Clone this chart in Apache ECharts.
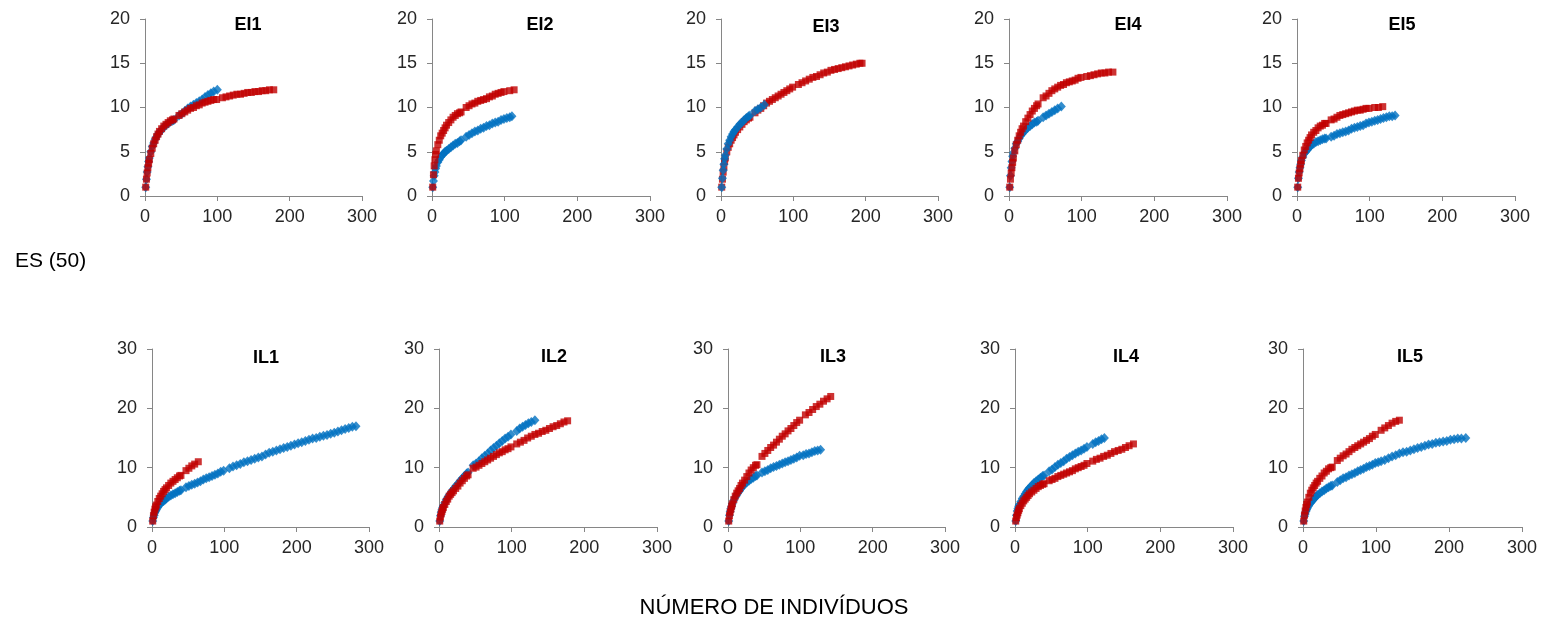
<!DOCTYPE html>
<html>
<head>
<meta charset="utf-8">
<script src="https://cdn.jsdelivr.net/npm/echarts@6/dist/echarts.min.js"></script>
<style>
html,body{margin:0;padding:0;background:#fff;}
#c{width:1541px;height:622px;}
</style>
</head>
<body>
<div id="c"></div>
<script>
// ---- DATA ----
const panelNames = ['EI1','EI2','EI3','EI4','EI5','IL1','IL2','IL3','IL4','IL5'];
const xTicks = [0, 100, 200, 300];
const yTicksTop = [0, 5, 10, 15, 20];
const yTicksBottom = [0, 10, 20, 30];
const axisLabelX = 'NÚMERO DE INDIVÍDUOS';
const axisLabelY = 'ES (50)';

const EI1_blue = [[1,1],[2,1.9],[3,2.7],[4,3.3],[5,3.9],[6,4.3],[8,5.0],[10,5.6],[12,6.0],[14,6.4],[16,6.7],[18,7.0],[20,7.2],[23,7.5],[26,7.8],[29,8.0],[32,8.2],[35,8.4],[38,8.5],[40,8.6],[47,9.1],[51,9.3],[55,9.6],[59,9.9],[63,10.1],[67,10.3],[71,10.5],[75,10.7],[79,10.9],[83,11.2],[87,11.4],[91,11.6],[95,11.8],[100,12.0]];
const EI1_red = [[1,1],[2,1.9],[3,2.6],[4,3.2],[5,3.7],[6,4.1],[8,4.8],[10,5.4],[12,5.9],[14,6.3],[16,6.7],[18,7.0],[20,7.3],[23,7.6],[26,7.9],[29,8.1],[32,8.3],[35,8.5],[38,8.6],[40,8.7],[47,9.1],[51,9.3],[55,9.5],[59,9.7],[63,9.9],[67,10.0],[71,10.2],[75,10.3],[79,10.5],[83,10.6],[87,10.7],[91,10.8],[95,10.9],[99,10.9],[107,11.1],[112,11.2],[117,11.3],[122,11.4],[127,11.5],[132,11.5],[137,11.6],[142,11.7],[147,11.7],[152,11.8],[157,11.8],[162,11.9],[167,11.9],[172,12.0],[178,12.0]];

const EI2_blue = [[1,1],[2,1.7],[3,2.3],[4,2.7],[5,3.1],[6,3.4],[8,3.8],[10,4.1],[12,4.4],[14,4.6],[16,4.8],[18,5.0],[20,5.1],[23,5.3],[26,5.5],[29,5.7],[32,5.9],[35,6.0],[38,6.2],[40,6.3],[47,6.7],[51,6.9],[55,7.1],[59,7.3],[63,7.4],[67,7.6],[71,7.7],[75,7.9],[79,8.0],[83,8.2],[87,8.3],[91,8.4],[95,8.6],[99,8.7],[103,8.8],[107,8.9],[110,9.0]];
const EI2_red = [[1,1],[2,2.4],[3,3.4],[4,4.1],[5,4.7],[6,5.1],[8,5.8],[10,6.3],[12,6.8],[14,7.1],[16,7.4],[18,7.7],[20,8.0],[23,8.3],[26,8.6],[29,8.9],[32,9.1],[35,9.3],[38,9.4],[40,9.5],[47,10.0],[51,10.2],[55,10.4],[59,10.5],[63,10.7],[67,10.8],[71,10.9],[75,11.0],[79,11.2],[83,11.3],[87,11.5],[91,11.6],[95,11.7],[99,11.8],[107,11.9],[113,12.0]];

const EI3_blue = [[1,1],[2,2.0],[3,2.9],[4,3.6],[5,4.2],[6,4.6],[8,5.3],[10,5.9],[12,6.3],[14,6.7],[16,7.0],[18,7.3],[20,7.5],[23,7.8],[26,8.1],[29,8.3],[32,8.6],[35,8.8],[38,9.0],[40,9.1],[47,9.6],[51,9.8],[55,10.0],[60,10.3]];
const EI3_red = [[1,1],[2,1.9],[3,2.7],[4,3.3],[5,3.9],[6,4.3],[8,5.0],[10,5.5],[12,5.9],[14,6.3],[16,6.6],[18,6.9],[20,7.2],[23,7.5],[26,7.8],[29,8.1],[32,8.4],[35,8.6],[38,8.8],[40,8.9],[47,9.4],[51,9.7],[55,9.9],[59,10.2],[63,10.5],[67,10.7],[71,10.9],[75,11.1],[79,11.3],[83,11.5],[87,11.7],[91,11.9],[95,12.1],[99,12.3],[107,12.6],[112,12.8],[117,13.0],[122,13.2],[127,13.4],[132,13.5],[137,13.7],[142,13.9],[147,14.0],[152,14.2],[157,14.3],[162,14.4],[167,14.5],[172,14.6],[177,14.7],[182,14.8],[187,14.9],[192,15.0],[195,15.0]];

const EI4_blue = [[1,1],[2,2.3],[3,3.2],[4,3.9],[5,4.5],[6,4.9],[8,5.4],[10,5.9],[12,6.2],[14,6.5],[16,6.8],[18,7.0],[20,7.2],[23,7.5],[26,7.7],[29,7.9],[32,8.1],[35,8.3],[38,8.4],[40,8.5],[47,8.9],[51,9.1],[55,9.3],[59,9.5],[63,9.7],[67,9.9],[72,10.1]];
const EI4_red = [[1,1],[2,1.9],[3,2.6],[4,3.2],[5,3.8],[6,4.3],[8,5.1],[10,5.8],[12,6.3],[14,6.8],[16,7.2],[18,7.6],[20,7.9],[23,8.4],[26,8.8],[29,9.2],[32,9.6],[35,9.9],[38,10.2],[40,10.4],[47,11.1],[51,11.3],[55,11.6],[59,11.9],[63,12.1],[67,12.3],[71,12.5],[75,12.6],[79,12.8],[83,12.9],[87,13.0],[91,13.1],[95,13.3],[99,13.4],[107,13.5],[112,13.6],[117,13.7],[122,13.8],[127,13.9],[132,13.9],[137,14.0],[143,14.0]];

const EI5_blue = [[1,1],[2,2.0],[3,2.7],[4,3.2],[5,3.6],[6,4.0],[8,4.4],[10,4.8],[12,5.0],[14,5.2],[16,5.4],[18,5.6],[20,5.8],[23,5.9],[26,6.1],[29,6.2],[32,6.3],[35,6.4],[38,6.5],[40,6.5],[47,6.7],[51,6.8],[55,7.0],[59,7.1],[63,7.2],[67,7.3],[71,7.4],[75,7.6],[79,7.7],[83,7.8],[87,7.9],[91,8.0],[95,8.2],[99,8.3],[103,8.4],[107,8.5],[111,8.6],[115,8.7],[119,8.8],[123,8.9],[127,9.0],[131,9.0],[135,9.1]];
const EI5_red = [[1,1],[2,2.0],[3,2.6],[4,3.1],[5,3.6],[6,4.0],[8,4.6],[10,5.2],[12,5.6],[14,6.0],[16,6.3],[18,6.6],[20,6.9],[23,7.2],[26,7.4],[29,7.7],[32,7.9],[35,8.0],[38,8.2],[40,8.2],[47,8.6],[51,8.7],[55,8.9],[59,9.1],[63,9.2],[67,9.3],[71,9.4],[75,9.5],[79,9.6],[83,9.7],[87,9.7],[91,9.8],[95,9.9],[99,9.9],[107,10.0],[112,10.0],[118,10.1]];

const IL1_blue = [[1,1],[2,1.6],[3,2.0],[4,2.4],[5,2.7],[6,2.9],[8,3.3],[10,3.7],[12,4.0],[14,4.2],[16,4.4],[18,4.6],[20,4.8],[23,5.1],[26,5.3],[29,5.5],[32,5.7],[35,5.9],[38,6.1],[40,6.2],[47,6.7],[51,6.9],[55,7.1],[59,7.3],[63,7.5],[67,7.7],[71,8.0],[75,8.2],[79,8.4],[83,8.6],[87,8.8],[91,9.0],[95,9.3],[99,9.5],[107,9.9],[112,10.2],[117,10.4],[122,10.6],[127,10.9],[132,11.1],[137,11.3],[142,11.5],[147,11.7],[152,11.9],[157,12.2],[162,12.5],[167,12.7],[172,12.9],[177,13.1],[182,13.3],[187,13.5],[192,13.7],[197,13.9],[202,14.1],[207,14.3],[212,14.5],[217,14.7],[222,14.9],[227,15.0],[232,15.2],[237,15.4],[242,15.5],[247,15.7],[252,15.9],[257,16.1],[262,16.3],[267,16.5],[272,16.7],[277,16.9],[282,17.0]];
const IL1_red = [[1,1],[2,1.9],[3,2.5],[4,3.0],[5,3.4],[6,3.7],[8,4.3],[10,4.8],[12,5.2],[14,5.6],[16,6.0],[18,6.3],[20,6.6],[23,7.0],[26,7.4],[29,7.7],[32,8.0],[35,8.3],[38,8.6],[40,8.7],[47,9.5],[51,9.9],[55,10.3],[59,10.6],[64,11.0]];

const IL2_blue = [[1,1],[2,1.9],[3,2.5],[4,2.9],[5,3.3],[6,3.6],[8,4.1],[10,4.6],[12,5.0],[14,5.4],[16,5.7],[18,6.1],[20,6.4],[23,6.9],[26,7.3],[29,7.8],[32,8.2],[35,8.6],[38,9.0],[40,9.2],[47,10.4],[51,10.7],[55,11.1],[59,11.6],[63,12.0],[67,12.4],[71,12.9],[75,13.3],[79,13.7],[83,14.1],[87,14.5],[91,14.9],[95,15.2],[99,15.6],[107,16.2],[111,16.6],[115,16.9],[119,17.2],[123,17.5],[127,17.7],[132,18.0]];
const IL2_red = [[1,1],[2,1.7],[3,2.2],[4,2.6],[5,3.0],[6,3.3],[8,3.8],[10,4.3],[12,4.7],[14,5.2],[16,5.5],[18,5.8],[20,6.1],[23,6.5],[26,6.9],[29,7.4],[32,7.8],[35,8.2],[38,8.6],[40,8.8],[47,9.9],[51,10.1],[55,10.4],[59,10.7],[63,11.0],[67,11.3],[71,11.6],[75,11.9],[79,12.2],[83,12.5],[87,12.7],[91,13.0],[95,13.2],[99,13.5],[107,14.0],[112,14.3],[117,14.6],[122,15.0],[127,15.3],[132,15.6],[137,15.8],[142,16.1],[147,16.3],[152,16.6],[157,16.9],[162,17.1],[167,17.4],[172,17.7],[177,17.9]];

const IL3_blue = [[1,1],[2,2.0],[3,2.6],[4,3.1],[5,3.5],[6,3.9],[8,4.5],[10,5.0],[12,5.4],[14,5.8],[16,6.1],[18,6.5],[20,6.8],[23,7.2],[26,7.5],[29,7.8],[32,8.1],[35,8.3],[38,8.6],[40,8.7],[47,9.2],[51,9.4],[55,9.6],[59,9.9],[63,10.1],[67,10.3],[71,10.5],[75,10.7],[79,10.9],[83,11.1],[87,11.3],[91,11.5],[95,11.7],[99,12.0],[104,12.1],[108,12.3],[112,12.4],[116,12.6],[120,12.8],[124,12.9],[128,13.0]];
const IL3_red = [[1,1],[2,1.9],[3,2.5],[4,3.0],[5,3.5],[6,3.9],[8,4.6],[10,5.2],[12,5.7],[14,6.1],[16,6.5],[18,7.0],[20,7.4],[23,7.9],[26,8.5],[29,9.1],[32,9.6],[35,10.0],[38,10.4],[40,10.5],[47,11.9],[51,12.4],[55,12.9],[59,13.4],[63,13.8],[67,14.3],[71,14.8],[75,15.3],[79,15.7],[83,16.2],[87,16.6],[91,17.1],[95,17.6],[99,18.0],[107,18.9],[112,19.3],[117,19.8],[122,20.3],[127,20.7],[132,21.2],[137,21.6],[142,22.0]];

const IL4_blue = [[1,1],[2,2.0],[3,2.7],[4,3.1],[5,3.5],[6,3.8],[8,4.3],[10,4.8],[12,5.2],[14,5.6],[16,6.0],[18,6.3],[20,6.6],[23,7.0],[26,7.4],[29,7.7],[32,8.0],[35,8.3],[38,8.6],[40,8.7],[47,9.4],[51,9.7],[55,10.1],[59,10.5],[63,10.8],[67,11.1],[71,11.5],[75,11.8],[79,12.1],[83,12.4],[87,12.7],[91,12.9],[95,13.2],[99,13.5],[107,14.0],[111,14.3],[115,14.5],[119,14.8],[123,15.0]];
const IL4_red = [[1,1],[2,1.6],[3,2.0],[4,2.4],[5,2.8],[6,3.1],[8,3.6],[10,4.0],[12,4.4],[14,4.7],[16,5.0],[18,5.3],[20,5.6],[23,5.9],[26,6.2],[29,6.5],[32,6.8],[35,7.0],[38,7.2],[40,7.3],[47,7.8],[51,8.0],[55,8.2],[59,8.5],[63,8.7],[67,8.9],[71,9.1],[75,9.3],[79,9.5],[83,9.8],[87,10.0],[91,10.2],[95,10.4],[99,10.7],[107,11.1],[112,11.4],[117,11.6],[122,11.9],[127,12.1],[132,12.4],[137,12.7],[142,12.9],[147,13.1],[152,13.4],[157,13.7],[163,14.0]];

const IL5_blue = [[1,1],[2,1.8],[3,2.2],[4,2.6],[5,2.9],[6,3.2],[8,3.6],[10,4.0],[12,4.3],[14,4.6],[16,4.9],[18,5.2],[20,5.4],[23,5.7],[26,6.0],[29,6.2],[32,6.5],[35,6.7],[38,6.9],[40,7.0],[47,7.6],[51,7.9],[55,8.2],[59,8.4],[63,8.7],[67,8.9],[71,9.1],[75,9.4],[79,9.6],[83,9.8],[87,10.1],[91,10.3],[95,10.5],[99,10.8],[103,10.9],[107,11.1],[112,11.3],[117,11.6],[122,11.9],[127,12.1],[132,12.4],[137,12.6],[142,12.7],[147,12.9],[152,13.1],[157,13.3],[162,13.5],[167,13.7],[172,13.9],[177,14.0],[182,14.2],[187,14.3],[192,14.4],[197,14.5],[202,14.7],[207,14.8],[212,14.9],[217,14.9],[223,15.0]];
const IL5_red = [[1,1],[2,2.0],[3,2.7],[4,3.3],[5,3.8],[6,4.2],[8,5.0],[10,5.7],[12,6.2],[14,6.6],[16,7.0],[18,7.4],[20,7.7],[23,8.2],[26,8.6],[29,9.1],[32,9.4],[35,9.8],[38,10.0],[40,10.1],[47,11.2],[51,11.6],[55,12.0],[59,12.3],[63,12.7],[67,13.1],[71,13.4],[75,13.7],[79,14.0],[83,14.3],[87,14.6],[91,14.9],[95,15.3],[99,15.6],[107,16.3],[112,16.7],[117,17.1],[122,17.5],[127,17.8],[132,18.0]];

const blueSeries = [EI1_blue, EI2_blue, EI3_blue, EI4_blue, EI5_blue, IL1_blue, IL2_blue, IL3_blue, IL4_blue, IL5_blue];
const redSeries = [EI1_red, EI2_red, EI3_red, EI4_red, EI5_red, IL1_red, IL2_red, IL3_red, IL4_red, IL5_red];

// ---- LAYOUT ----
const layout = [
  {left:145, top:19, width:217, height:177, tx:248, ty:25},
  {left:432, top:19, width:218, height:177, tx:540, ty:25},
  {left:721, top:19, width:217, height:177, tx:826, ty:27},
  {left:1009, top:19, width:218, height:177, tx:1128, ty:25},
  {left:1297, top:19, width:218, height:177, tx:1402, ty:25},
  {left:152, top:349, width:217, height:178, tx:266, ty:358},
  {left:439, top:349, width:218, height:178, tx:554, ty:357},
  {left:728, top:349, width:217, height:178, tx:833, ty:357},
  {left:1015, top:349, width:218, height:178, tx:1126, ty:357},
  {left:1303, top:349, width:219, height:178, tx:1410, ty:357}
];
const blueOnTop = [false,false,true,false,false,false,false,false,false,false];

const FONT = '"Liberation Sans", Arial, sans-serif';
const axisColor = '#868686';
const labelColor = '#262626';
const BLUE = '#0070C0';
const RED = '#C00000';

const grids = [], xAxes = [], yAxes = [], series = [], graphics = [];
layout.forEach((L, i) => {
  const top = i < 5;
  const yt = top ? yTicksTop : yTicksBottom;
  grids.push({left:L.left, top:L.top, width:L.width, height:L.height, containLabel:false});
  xAxes.push({
    type:'value', gridIndex:i, min:xTicks[0], max:xTicks[xTicks.length-1], interval:xTicks[1]-xTicks[0],
    axisLine:{show:true, onZero:false, lineStyle:{color:axisColor, width:1}},
    axisTick:{show:true, inside:false, length:5, lineStyle:{color:axisColor}},
    axisLabel:{margin:12, color:labelColor, fontSize:18, fontFamily:FONT},
    splitLine:{show:false}
  });
  yAxes.push({
    type:'value', gridIndex:i, min:yt[0], max:yt[yt.length-1], interval:yt[1]-yt[0],
    axisLine:{show:true, onZero:false, lineStyle:{color:axisColor, width:1}},
    axisTick:{show:true, inside:false, length:5, lineStyle:{color:axisColor}},
    axisLabel:{margin:15, color:labelColor, fontSize:18, fontFamily:FONT},
    splitLine:{show:false}
  });
  const b = {type:'scatter', xAxisIndex:i, yAxisIndex:i, data:blueSeries[i], symbol:'diamond', symbolSize:[9,10],
    itemStyle:{color:BLUE}, z: blueOnTop[i] ? 3 : 2, silent:true, animation:false};
  const r = {type:'scatter', xAxisIndex:i, yAxisIndex:i, data:redSeries[i], symbol:'rect', symbolSize:7,
    itemStyle:{color:RED}, z: blueOnTop[i] ? 2 : 3, silent:true, animation:false};
  series.push(b, r);
  graphics.push({type:'text', x:L.tx, y:L.ty, style:{text:panelNames[i], fill:'#000', font:'bold 18px ' + FONT, align:'center', verticalAlign:'middle'}});
});
graphics.push({type:'text', x:15, y:261, style:{text:axisLabelY, fill:'#000', font:'21px ' + FONT, align:'left', verticalAlign:'middle'}});
graphics.push({type:'text', x:774, y:608, style:{text:axisLabelX, fill:'#000', font:'22px ' + FONT, align:'center', verticalAlign:'middle'}});

const chart = echarts.init(document.getElementById('c'), null, {renderer:'canvas'});
chart.setOption({
  animation:false,
  backgroundColor:'#fff',
  grid:grids, xAxis:xAxes, yAxis:yAxes, series:series, graphic:graphics
});
</script>
</body>
</html>
